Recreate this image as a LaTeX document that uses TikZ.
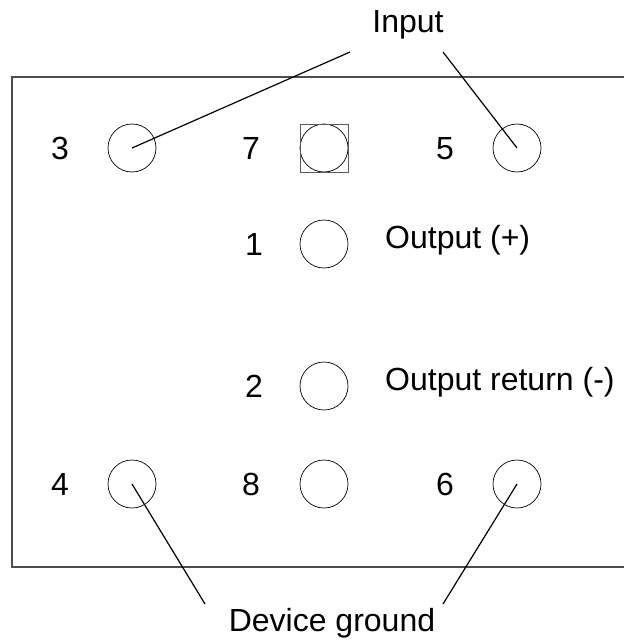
\documentclass[tikz,border=0pt]{standalone}
\usepackage{fontspec}
\setmainfont{Liberation Sans}
\begin{document}
\begin{tikzpicture}[x=1pt,y=-1pt,
  pin/.style={draw=black, line width=0.7pt, circle, minimum size=48pt, inner sep=0pt},
  lbl/.style={font=\fontsize{32}{38}\selectfont, anchor=base, inner sep=0pt},
  desc/.style={font=\fontsize{32}{38}\selectfont, anchor=base west, inner sep=0pt},
  leader/.style={draw=black, line width=1.2pt},
  frame/.style={draw=black!70, line width=1.1pt}]
\useasboundingbox (0,0) rectangle (624,642);
% housing outline (open on the right)
\draw[frame] (624,77) -- (12,77) -- (12,567) -- (624,567);
% pins
\node[pin] (p3) at (132,148) {};
\node[pin] (p7) at (324,148) {};
\node[pin] (p5) at (517,148) {};
\node[pin] (p1) at (324,244) {};
\node[pin] (p2) at (324,386) {};
\node[pin] (p4) at (132,484) {};
\node[pin] (p8) at (324,484) {};
\node[pin] (p6) at (517,484) {};
\node[draw=black!65, line width=0.9pt, minimum size=48pt, inner sep=0pt] (sq7) at (324,148) {};
% pin numbers
\node[lbl] (l3) at (60,159) {3};
\node[lbl] (l7) at (251,159) {7};
\node[lbl] (l5) at (445,159) {5};
\node[lbl] (l1) at (254,255) {1};
\node[lbl] (l2) at (254,397) {2};
\node[lbl] (l4) at (60,495) {4};
\node[lbl] (l8) at (251,495) {8};
\node[lbl] (l6) at (445,495) {6};
% descriptions
\node[desc] (o1) at (385,248) {Output (+)};
\node[desc] (o2) at (385,390) {Output return (-)};
\node[lbl] (inp) at (408,33) {Input};
\node[lbl] (gnd) at (332,631) {Device ground};
% leader lines
\coordinate (ia) at (350,52);
\coordinate (ib) at (443,52);
\coordinate (ga) at (205,604);
\coordinate (gb) at (443,604);
\draw[leader] (ia) -- (p3.center);
\draw[leader] (ib) -- (p5.center);
\draw[leader] (ga) -- (p4.center);
\draw[leader] (gb) -- (p6.center);
\end{tikzpicture}
\end{document}
